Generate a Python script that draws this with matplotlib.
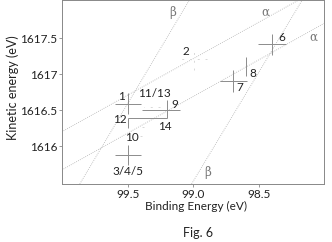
import matplotlib
matplotlib.use("Agg")
import matplotlib.pyplot as plt
import numpy as np

plt.rcParams['font.family'] = ['Lato', 'DejaVu Sans']

# measured points: centre, error bar half-widths (lower value side, higher value side)
pt_names = ["1", "12", "9", "3/4/5", "7", "8", "6"]
pt_x = [99.50, 99.50, 99.20, 99.50, 98.695, 98.598, 98.397]
pt_y = [1616.59, 1616.385, 1616.50, 1615.875, 1616.903, 1617.106, 1617.417]
pt_xerr_lo = [0.10, 0.30, 0.097, 0.10, 0.102, 0.0, 0.105]
pt_xerr_hi = [0.10, 0.00, 0.196, 0.10, 0.102, 0.0, 0.105]
pt_yerr_lo = [0.15, 0.135, 0.115, 0.14, 0.15, 0.135, 0.15]
pt_yerr_hi = [0.15, 0.0, 0.139, 0.14, 0.15, 0.135, 0.15]

# faint points (barely visible in the figure)
faint_x = [98.997, 99.315, 99.397, 99.41]
faint_y = [1617.208, 1616.54, 1616.264, 1616.14]
faint_xerr = [0.10, 0.06, 0.02, 0.02]
faint_yerr = [0.146, 0.0, 0.0, 0.0]

# point labels
lab_text = ["1", "11/13", "9", "12", "14", "10", "3/4/5", "2", "7", "8", "6"]
lab_x = [99.551, 99.301, 99.142, 99.564, 99.219, 99.474, 99.50, 99.058, 98.644, 98.542, 98.325]
lab_y = [1616.685, 1616.732, 1616.583, 1616.375, 1616.268, 1616.121, 1615.643, 1617.324, 1616.815, 1617.010, 1617.51]

# dotted guide lines (end points)
guide_x = [[99.870, 99.033], [99.014, 98.169], [100.008, 98.200], [100.008, 98.001]]
guide_y = [[1615.472, 1618.028], [1615.472, 1618.028], [1616.199, 1618.028], [1615.667, 1617.708]]
guide_text = ["β", "β", "α", "α"]
guide_lab_x = [99.157, 98.888, 98.452, 98.085]
guide_lab_y = [1617.861, 1615.639, 1617.861, 1617.514]

fig = plt.figure(figsize=(3.32, 2.42), dpi=100)
ax = fig.add_axes([0.1867, 0.2397, 0.7893, 0.7583])

for gx, gy in zip(guide_x, guide_y):
    ax.plot(gx, gy, color='#b0b0b0', lw=0.6, ls=(0, (1, 1.5)))
for t, x, y in zip(guide_text, guide_lab_x, guide_lab_y):
    ax.text(x, y, t, family='DejaVu Serif', fontsize=8.5, color='#777777', ha='center', va='center')

ax.errorbar(pt_x, pt_y, xerr=[pt_xerr_lo, pt_xerr_hi], yerr=[pt_yerr_lo, pt_yerr_hi],
            fmt='none', ecolor='#8c8c8c', elinewidth=0.7, capsize=0)
faint = ax.errorbar(faint_x, faint_y, xerr=faint_xerr, yerr=faint_yerr,
                    fmt='none', ecolor='#d8d8d8', elinewidth=0.7, capsize=0)
for lc in faint[2]:
    lc.set_linestyle((0, (2, 6)))

for t, x, y in zip(lab_text, lab_x, lab_y):
    ax.text(x, y, t, fontsize=8.5, color='#222222', ha='center', va='center')

ax.set_xlim(100.006, 98.0)
ax.set_ylim(1615.472, 1618.028)
ax.set_xticks([99.5, 99.0, 98.5])
ax.set_xticklabels(["99.5", "99.0", "98.5"])
ax.set_yticks([1616, 1616.5, 1617, 1617.5])
ax.set_yticklabels(["1616", "1616.5", "1617", "1617.5"])
ax.tick_params(labelsize=8.5, length=2.5, width=0.6, color='#888888', pad=1.0, labelcolor='#222222')
for s in ax.spines.values():
    s.set_color('#888888')
    s.set_linewidth(0.7)

fig.text(196 / 332, 1 - 206 / 242, "Binding Energy (eV)", fontsize=8.5, color='#222222', ha='center', va='center')
fig.text(13 / 332, 1 - 88 / 242, "Kinetic energy (eV)", fontsize=9, color='#222222', ha='center', va='center', rotation=90)
fig.text(198 / 332, 1 - 233 / 242, "Fig. 6", fontsize=9, color='#222222', ha='center', va='center')

fig.savefig("out.png", dpi=100)
